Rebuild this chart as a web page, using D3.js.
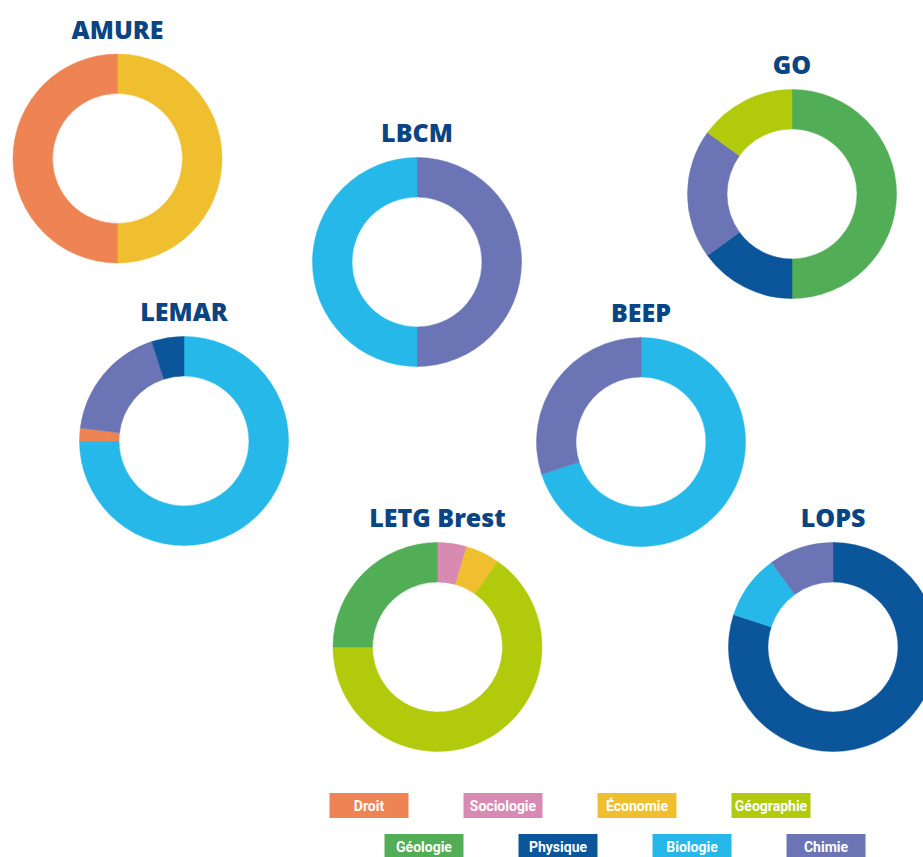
<!DOCTYPE html>
<html>
<head>
<meta charset="utf-8">
<script src="https://cdn.jsdelivr.net/npm/d3@7"></script>
<style>
  html, body { margin: 0; padding: 0; background: #ffffff; overflow: hidden; }
  svg { display: block; }
</style>
</head>
<body>
<svg id="chart" width="923" height="857"></svg>
<script>
// ---- Data ----
const disciplines = ["Droit", "Sociologie", "Économie", "Géographie", "Géologie", "Physique", "Biologie", "Chimie"];
const disciplineColors = ["#ee8454", "#d98ab2", "#f0bf2f", "#b1ca0c", "#52ad57", "#0b559b", "#25b8e8", "#6b74b4"];

const labs = ["AMURE", "LBCM", "GO", "LEMAR", "BEEP", "LETG Brest", "LOPS"];

// slices listed clockwise from 12 o'clock: [discipline, share %]
const amure = [["Économie", 50], ["Droit", 50]];
const lbcm  = [["Chimie", 50], ["Biologie", 50]];
const go    = [["Géologie", 50], ["Physique", 15], ["Chimie", 20], ["Géographie", 15]];
const lemar = [["Biologie", 75], ["Droit", 2], ["Chimie", 18], ["Physique", 5]];
const beep  = [["Biologie", 70], ["Chimie", 30]];
const letg  = [["Sociologie", 4.5], ["Économie", 5.3], ["Géographie", 65.2], ["Géologie", 25]];
const lops  = [["Physique", 80], ["Biologie", 10], ["Chimie", 10]];

const labData = [amure, lbcm, go, lemar, beep, letg, lops];

// ---- Layout (positions only) ----
const centers = [[117.5, 158.5], [417, 262], [792, 194], [184, 441], [641, 442], [437.5, 647], [833, 647]];
const outerR = 104.5, innerR = 65;

const svg = d3.select("#chart");
const color = d3.scaleOrdinal().domain(disciplines).range(disciplineColors);
const pie = d3.pie().sort(null).value(d => d[1]);
const arc = d3.arc().innerRadius(innerR).outerRadius(outerR);

labs.forEach((lab, i) => {
  const [cx, cy] = centers[i];
  const g = svg.append("g").attr("transform", `translate(${cx},${cy})`);
  g.selectAll("path")
    .data(pie(labData[i]))
    .join("path")
    .attr("d", arc)
    .attr("fill", d => color(d.data[0]))
    .attr("stroke", d => color(d.data[0]))
    .attr("stroke-width", 0.5);
  g.append("text")
    .attr("x", 0)
    .attr("y", -120)
    .attr("text-anchor", "middle")
    .attr("font-family", "'Open Sans', sans-serif")
    .attr("font-weight", 800)
    .attr("font-size", 25)
    .attr("fill", "#0b4483")
    .text(lab);
});

// ---- Legend ----
const boxW = 79, boxH = 25;
const legendRows = [
  { y: 793, x0: 329.5, items: disciplines.slice(0, 4) },
  { y: 834, x0: 384.5, items: disciplines.slice(4) }
];
legendRows.forEach(row => {
  const lx = d3.scalePoint().domain(row.items).range([row.x0, row.x0 + 134 * (row.items.length - 1)]);
  const lg = svg.append("g");
  const item = lg.selectAll("g")
    .data(row.items)
    .join("g")
    .attr("transform", d => `translate(${lx(d)},${row.y})`);
  item.append("rect")
    .attr("width", boxW)
    .attr("height", boxH)
    .attr("fill", d => color(d));
  item.append("text")
    .attr("x", boxW / 2)
    .attr("y", boxH / 2 + 0.5)
    .attr("text-anchor", "middle")
    .attr("dominant-baseline", "central")
    .attr("font-family", "Roboto, sans-serif")
    .attr("font-weight", 700)
    .attr("font-size", 14)
    .attr("fill", "#ffffff")
    .text(d => d);
});
</script>
</body>
</html>
